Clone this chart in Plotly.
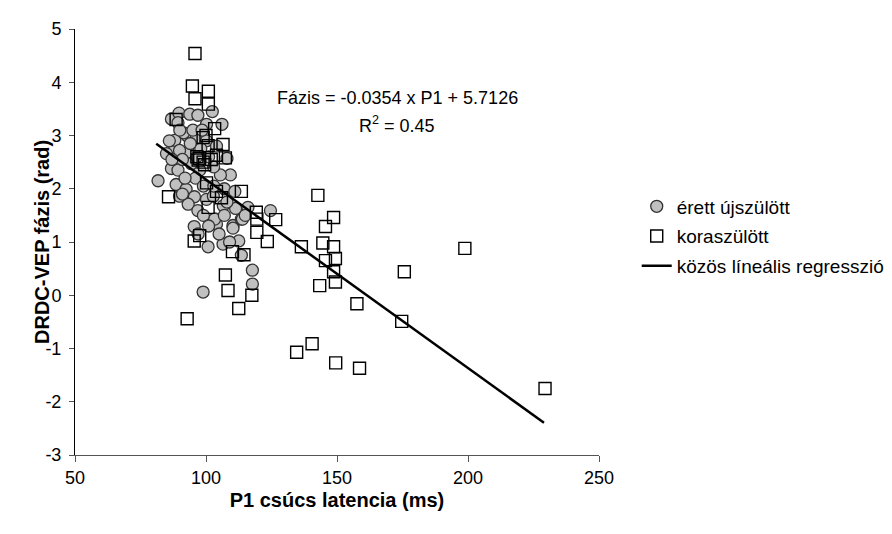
import plotly.graph_objects as go

# érett újszülött (term neonates) - circles
term_x = [81.7, 86.8, 89.7, 93.8, 96.9, 102.4, 89.3, 100.2, 106.1, 92.9, 96.3, 100.2,
          88.1, 84.9, 93.2, 86.8, 89.3, 88.6, 92.4, 89.9, 95.6, 93.2, 100.2, 102.8,
          106.6, 96.9, 103.7, 109.3, 105.5, 108.0, 102.9, 97.6, 94.4, 88.1, 89.9, 110.3,
          113.5, 116.0, 111.3, 124.6, 117.7, 117.7, 98.9, 100.8, 95.5, 104.0, 110.3, 112.5,
          106.5, 113.5, 113.9, 103.3,
          91.5, 95.0, 98.0, 91.0, 96.0, 99.0, 103.0, 107.0, 111.0, 92.0, 86.0, 98.5,
          104.0, 94.0, 101.0, 107.0, 99.0, 97.0, 91.0, 105.0, 101.0, 108.0, 87.0, 90.0,
          96.5, 115.0, 109.0]
term_y = [2.15, 3.31, 3.42, 3.40, 3.38, 3.45, 3.24, 3.21, 3.21, 2.99, 2.96, 2.90,
          2.78, 2.66, 2.69, 2.38, 2.35, 2.08, 1.99, 1.86, 1.85, 1.71, 1.80, 1.86,
          1.68, 1.59, 1.43, 2.26, 2.26, 2.57, 2.41, 2.35, 2.47, 2.91, 2.72, 1.31,
          1.43, 1.65, 1.63, 1.59, 0.47, 0.21, 0.06, 0.91, 1.29, 1.34, 1.26, 1.02,
          0.96, 0.75, 1.43, 1.43,
          3.05, 3.10, 2.75, 2.55, 2.20, 2.05, 2.05, 2.00, 1.95, 2.20, 2.90, 3.10,
          2.80, 2.85, 2.60, 1.50, 1.50, 1.15, 1.90, 1.15, 1.30, 1.75, 2.55, 3.10,
          2.60, 1.50, 1.00]

# koraszülött (preterm) - squares
pre_x = [95.8, 94.8, 100.9, 95.8, 100.9, 103.3, 106.5, 107.4, 97.6, 85.7, 113.5, 119.2,
         88.6, 98.9, 100.8, 97.0, 98.9, 104.0, 100.2, 104.0, 105.9, 100.8, 95.5, 97.6,
         107.4, 108.4, 112.5, 117.5, 92.8, 110.1, 114.5, 126.6, 123.4, 119.4, 119.4,
         142.7, 148.7, 145.6, 144.6, 148.7, 149.4, 145.6, 148.7, 149.4, 143.4, 136.4,
         157.6, 174.7, 175.7, 198.8, 229.4, 140.5, 134.6, 149.5, 158.6,
         96.5, 99.5, 102.0, 100.0]
pre_y = [4.54, 3.93, 3.83, 3.69, 3.59, 3.13, 2.83, 2.58, 2.57, 1.85, 1.95, 1.56,
         3.30, 2.96, 2.81, 2.54, 2.50, 2.63, 2.11, 1.95, 1.83, 1.65, 1.02, 1.12,
         0.38, 0.09, -0.25, 0.00, -0.44, 0.82, 0.76, 1.42, 1.01, 1.18, 1.43,
         1.875, 1.46, 1.29, 0.98, 0.91, 0.69, 0.65, 0.44, 0.25, 0.18, 0.91,
         -0.16, -0.49, 0.44, 0.88, -1.75, -0.91, -1.07, -1.27, -1.37,
         2.60, 2.45, 2.55, 3.00]

# regression
reg_slope = -0.0354
reg_intercept = 5.7126
reg_x = [81, 229]
reg_y = [reg_slope * v + reg_intercept for v in reg_x]

x_ticks = [50, 100, 150, 200, 250]
x_tick_labels = ["50", "100", "150", "200", "250"]
y_ticks = [-3, -2, -1, 0, 1, 2, 3, 4, 5]
y_tick_labels = ["-3", "-2", "-1", "0", "1", "2", "3", "4", "5"]

FONT = "Liberation Sans, Arial, sans-serif"

fig = go.Figure()
fig.add_trace(go.Scatter(
    x=term_x, y=term_y, mode="markers", name="érett újszülött", legendgroup="a",
    marker=dict(symbol="circle", size=12, color="#c0c0c0",
                line=dict(color="#333333", width=1.3))))
fig.add_trace(go.Scatter(
    x=pre_x, y=pre_y, mode="markers", name="koraszülött", legendgroup="b",
    marker=dict(symbol="square-open", size=12, color="#000000",
                line=dict(color="#000000", width=1.4))))
fig.add_trace(go.Scatter(
    x=reg_x, y=reg_y, mode="lines", name="közös líneális regresszió", legendgroup="c",
    line=dict(color="#000000", width=2.5)))

fig.add_annotation(xref="x", yref="y", x=173, y=3.70, showarrow=False,
                   text="Fázis = -0.0354 x P1 + 5.7126", font=dict(size=18, color="black"))
fig.add_annotation(xref="x", yref="y", x=173, y=3.20, showarrow=False,
                   text="R<sup>2</sup> = 0.45", font=dict(size=18, color="black"))
fig.add_annotation(xref="paper", yref="paper", x=-0.063, y=0.5, showarrow=False,
                   textangle=-90, xanchor="center", yanchor="middle",
                   text="<b>DRDC-VEP fázis (rad)</b>", font=dict(size=20, color="black"))

fig.update_layout(
    width=892, height=534,
    margin=dict(l=67, r=300, t=11, b=87),
    paper_bgcolor="white", plot_bgcolor="white",
    font=dict(family=FONT, size=18, color="black"),
    showlegend=True,
    legend=dict(x=1.072, y=0.628, xanchor="left", yanchor="top",
                font=dict(size=19), tracegroupgap=2, bgcolor="rgba(0,0,0,0)"),
    xaxis=dict(range=[50, 250], tickvals=x_ticks, ticktext=x_tick_labels,
               showgrid=False, zeroline=False,
               showline=True, linecolor="#555555", linewidth=1,
               ticks="outside", ticklen=6, tickcolor="#555555",
               tickfont=dict(size=18),
               title=dict(text="<b>P1 csúcs latencia (ms)</b>", font=dict(size=20), standoff=6)),
    yaxis=dict(range=[-3, 5], tickvals=y_ticks, ticktext=y_tick_labels,
               showgrid=False, zeroline=False,
               showline=True, linecolor="#000000", linewidth=1,
               ticks="outside", ticklen=5, tickcolor="#555555",
               tickfont=dict(size=18), ticklabelstandoff=4),
)

fig.write_html("out.html")
